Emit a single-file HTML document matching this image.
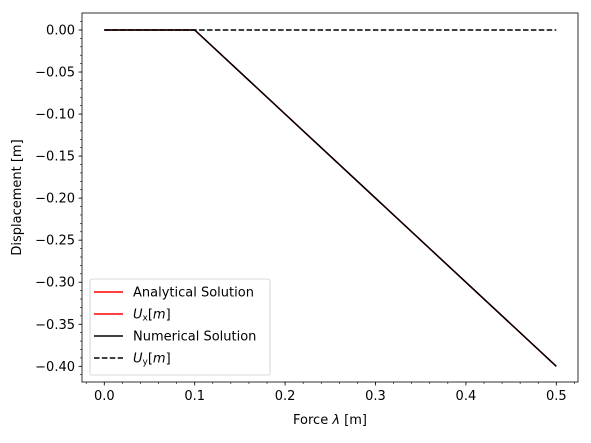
<!DOCTYPE html>
<html><head><meta charset="utf-8"><style>
body{margin:0;background:#fff}
svg text{font-family:"DejaVu Sans","Liberation Sans",sans-serif;font-size:13px;fill:#000}
</style></head><body>
<svg id="c" width="591" height="438" viewBox="0 0 591 438" xmlns="http://www.w3.org/2000/svg"></svg>
<script>
const forceX=[0,0.1,0.5];
const analyticalUx=[0,0,-0.4];
const numericalUx=[0,0,-0.4];
const numericalUyX=[0,0.5];
const numericalUy=[0,0];
const xTicks=[0,0.1,0.2,0.3,0.4,0.5];
const xTickLabels=["0.0","0.1","0.2","0.3","0.4","0.5"];
const yTicks=[0,-0.05,-0.1,-0.15,-0.2,-0.25,-0.3,-0.35,-0.4];
const yTickLabels=["0.00","−0.05","−0.10","−0.15","−0.20","−0.25","−0.30","−0.35","−0.40"];
const L=82,R=578,T=13,B=382;
const sx=v=>104.3+v*904;
const sy=v=>30-v*(336.3/0.4);
const svg=document.getElementById('c');
const NS='http://www.w3.org/2000/svg';
function mk(tag,attrs,name,parent){const e=document.createElementNS(NS,tag);for(const k in attrs)e.setAttribute(k,attrs[k]);


(parent||svg).appendChild(e);return e;}
mk('rect',{x:L,y:T,width:R-L,height:B-T,fill:'#fff',stroke:'none'},'plot-area');
for(let i=-1;i<=26;i++){const v=i*0.02;const x=sx(v);if(x<L||x>R)continue;mk('line',{x1:x,y1:B,x2:x,y2:B+2,stroke:'#000','stroke-width':0.6},'x-minor-tick');}
for(let i=-41;i<=1;i++){const v=i*0.01;const y=sy(v);if(y<T||y>B)continue;mk('line',{x1:L,y1:y,x2:L-2,y2:y,stroke:'#000','stroke-width':0.6},'y-minor-tick');}
xTicks.forEach((v,i)=>{const x=sx(v);mk('line',{x1:x,y1:B,x2:x,y2:B+3.5,stroke:'#000','stroke-width':0.8},'x-tick');
const t=mk('text',{x:x,y:B+18,'text-anchor':'middle'},'x-tick-label');t.textContent=xTickLabels[i];});
yTicks.forEach((v,i)=>{const y=sy(v);mk('line',{x1:L,y1:y,x2:L-3.5,y2:y,stroke:'#000','stroke-width':0.8},'y-tick');
const t=mk('text',{x:L-7,y:y+4.5,'text-anchor':'end'},'y-tick-label');t.textContent=yTickLabels[i];});
const pts=(xs,ys)=>xs.map((x,i)=>sx(x)+','+sy(ys[i])).join(' ');
mk('polyline',{points:pts(forceX,analyticalUx),fill:'none',stroke:'#ff0000','stroke-width':1.5},'analytical-ux-line');
mk('polyline',{points:pts(forceX,numericalUx),fill:'none',stroke:'#000','stroke-width':1.5},'numerical-ux-line');
mk('polyline',{points:pts(numericalUyX,numericalUy),fill:'none',stroke:'#000','stroke-width':1.5,'stroke-dasharray':'5.5,2.4'},'numerical-uy-line');
mk('rect',{x:L,y:T,width:R-L,height:B-T,fill:'none',stroke:'#000','stroke-width':0.8},'axes-frame');
const xl=mk('text',{x:(L+R)/2,y:424,'text-anchor':'middle'},'x-axis-title');xl.innerHTML='Force <tspan font-style="italic">λ</tspan> [m]';
const yl=mk('text',{x:21,y:(T+B)/2,'text-anchor':'middle',transform:'rotate(-90 21 '+((T+B)/2)+')'},'y-axis-title');yl.textContent='Displacement [m]';
const g=mk('g',{},'legend');
mk('rect',{x:90,y:279,width:180,height:96,rx:2,fill:'#fff','fill-opacity':0.8,stroke:'#ccc','stroke-width':0.8},'legend-box',g);
const entries=[['Analytical Solution','#ff0000',null],['U<tspan font-size="9" dy="2">x</tspan><tspan dy="-2">[</tspan><tspan font-style="italic">m</tspan>]','#ff0000',null],['Numerical Solution','#000',null],['U<tspan font-size="9" dy="2">y</tspan><tspan dy="-2">[</tspan><tspan font-style="italic">m</tspan>]','#000','5.5,2.4']];
entries.forEach((e,i)=>{const y=292+i*22;
const ln=mk('line',{x1:94,y1:y,x2:123,y2:y,stroke:e[1],'stroke-width':1.5},'legend-entry-line',g);if(e[2])ln.setAttribute('stroke-dasharray',e[2]);
const t=mk('text',{x:133,y:y+4.5},'legend-entry-label',g);
if(i==1||i==3){t.innerHTML='<tspan font-style="italic">'+e[0].slice(0,1)+'</tspan>'+e[0].slice(1);}else t.textContent=e[0];});
</script>
</body></html>
